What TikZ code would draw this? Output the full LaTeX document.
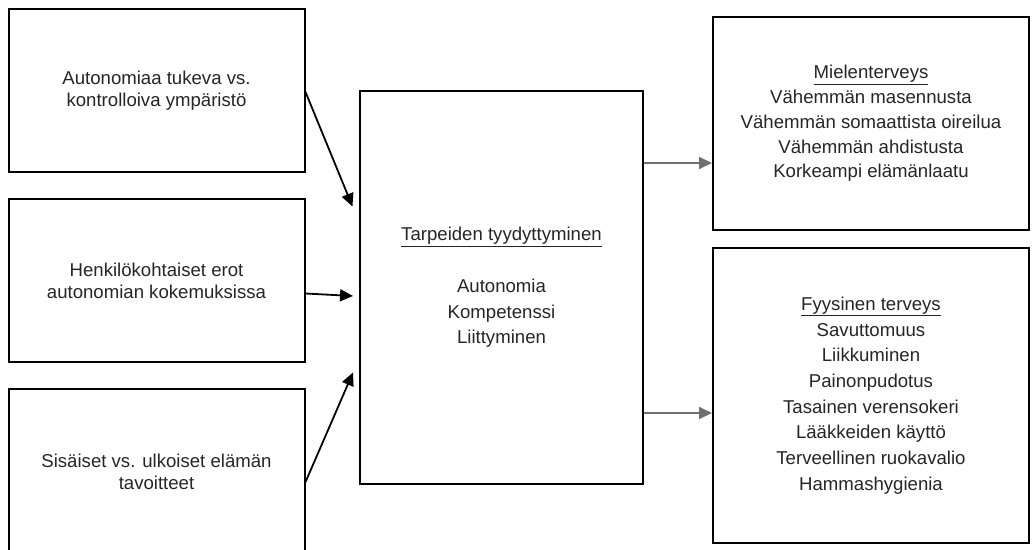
\documentclass[tikz,border=0pt]{standalone}
\usepackage{fontspec}
\setmainfont{Liberation Sans}
\usetikzlibrary{arrows.meta}
\definecolor{grayarrow}{RGB}{112,112,112}
\tikzset{
  box/.style={draw=black, line width=2pt, fill=white, inner sep=0pt, align=center, text=black!85},
  leftbox/.style={box, minimum width=296pt, font=\fontsize{18.6}{22.3}\selectfont},
  blackarrow/.style={line width=1.8pt, draw=black, -{Triangle[length=13pt,width=12pt]}},
  grayconn/.style={line width=1.8pt, draw=grayarrow, -{Triangle[length=13pt,width=12pt]}, fill=grayarrow},
}
\begin{document}
\begin{tikzpicture}[x=1pt, y=-1pt]
\useasboundingbox (0,0) rectangle (1035,549);
\clip (0,0) rectangle (1035,549);
\fill[white] (0,0) rectangle (1035,549);

\node[leftbox, minimum height=163pt] (lt) at (156.5,90.5) {Autonomiaa tukeva vs.\\kontrolloiva ympäristö};
\node[leftbox, minimum height=163pt] (lm) at (156.5,280.5) {Henkilökohtaiset erot\\autonomian kokemuksissa};
\node[leftbox, minimum height=165pt] (lb) at (156.5,471.5) {Sisäiset vs. ulkoiset elämän\\tavoitteet};

\node[box, minimum width=283pt, minimum height=393pt, font=\fontsize{18.6}{25.8}\selectfont] (ctr) at (501.5,287.5)
  {\underline{Tarpeiden tyydyttyminen}\\[25.8pt]Autonomia\\Kompetenssi\\Liittyminen};

\node[box, minimum width=316pt, minimum height=213pt, font=\fontsize{18.6}{24.7}\selectfont] (rt) at (871,123.5)
  {\underline{Mielenterveys}\\Vähemmän masennusta\\Vähemmän somaattista oireilua\\Vähemmän ahdistusta\\Korkeampi elämänlaatu};

\node[box, minimum width=316pt, minimum height=295pt, font=\fontsize{18.6}{25.7}\selectfont] (rb) at (871,395.5)
  {\underline{Fyysinen terveys}\\Savuttomuus\\Liikkuminen\\Painonpudotus\\Tasainen verensokeri\\Lääkkeiden käyttö\\Terveellinen ruokavalio\\Hammashygienia};

\coordinate (t1) at (352.5,206.5);
\coordinate (t2) at (353,296);
\coordinate (t3) at (353,372.5);

\draw[blackarrow] ([yshift=-1.5pt]lt.east) -- (t1);
\draw[blackarrow] ([yshift=-13pt]lm.east) -- (t2);
\draw[blackarrow] ([yshift=-10.5pt]lb.east) -- (t3);

\draw[grayconn] ([yshift=124.5pt]ctr.east) -- ([yshift=124.5pt]ctr.east -| rt.west);
\draw[grayconn] ([yshift=-125.5pt]ctr.east) -- ([yshift=-125.5pt]ctr.east -| rb.west);
\end{tikzpicture}
\end{document}
